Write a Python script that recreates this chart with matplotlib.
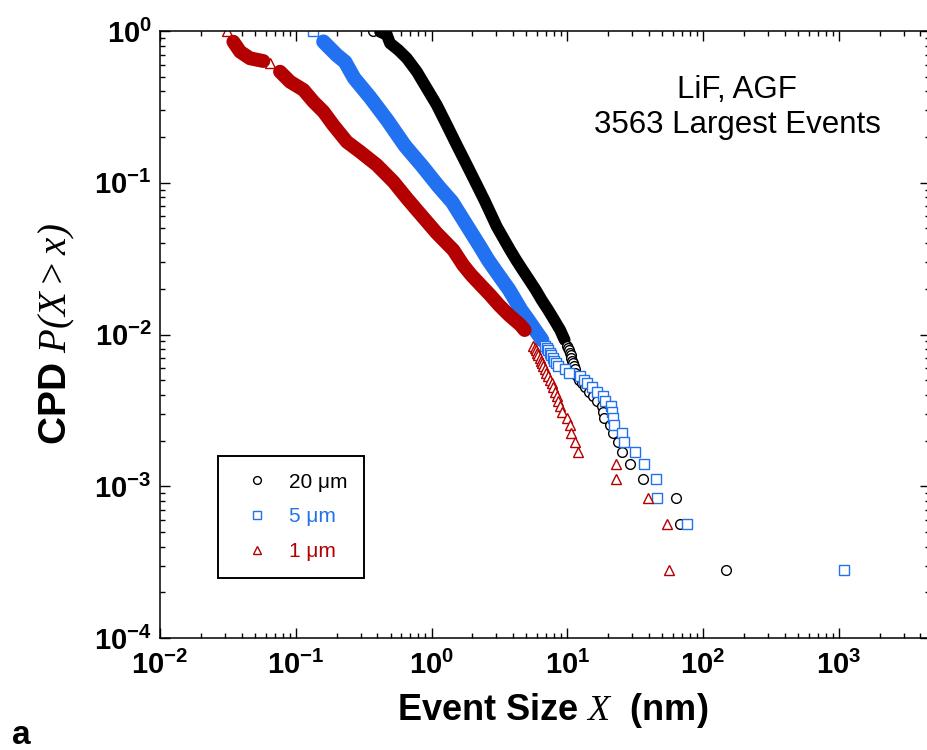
import numpy as np
import matplotlib
matplotlib.use("Agg")
import matplotlib.pyplot as plt

plt.rcParams['font.family'] = ['Liberation Sans', 'DejaVu Sans']
plt.rcParams['mathtext.fontset'] = 'custom'
plt.rcParams['mathtext.rm'] = 'Liberation Serif:italic'
plt.rcParams['mathtext.it'] = 'Liberation Serif:italic'
plt.rcParams['mathtext.bf'] = 'Liberation Sans:bold'

N_EVENTS = 3563

# ---- 20 um pillars -------------------------------------------------------
x20_top = [0.373]
p20_top = [1.0]
# dense part of the CPD (markers overlap into a solid band)
x20_band = [0.418, 0.469, 0.495, 0.570, 0.658, 0.780, 0.923, 1.094, 1.297,
            1.535, 1.820, 2.158, 2.483, 3.027, 3.795, 4.20, 4.69, 5.24,
            5.85, 6.47, 7.23, 8.00, 8.87, 9.57]
p20_band = [0.989, 0.941, 0.830, 0.750, 0.661, 0.539, 0.419, 0.325, 0.240,
            0.177, 0.131, 0.0966, 0.0750, 0.0513, 0.0360, 0.0310, 0.0266,
            0.0229, 0.0197, 0.0169, 0.0145, 0.0125, 0.0107, 0.00920]
# largest events, rank 1 first
x20_tail = [148, 67.9, 63.5, 36.1, 29.2, 25.2, 23.8, 21.9, 20.7, 18.5, 18.4,
            17.9, 16.6, 15.6, 14.5, 13.5, 12.9, 12.2, 11.8, 11.43, 11.35,
            11.15, 11.06, 10.87, 10.69, 10.59, 10.42, 10.33, 10.16, 9.98]

# ---- 5 um pillars --------------------------------------------------------
x5_top = [0.135]
p5_top = [1.0]
x5_band = [0.160, 0.200, 0.231, 0.269, 0.353, 0.471, 0.638, 0.853, 1.119,
           1.419, 1.718, 2.280, 2.61, 2.94, 3.31, 3.73, 4.13, 4.57, 5.15,
           5.80, 6.53]
p5_band = [0.850, 0.695, 0.625, 0.490, 0.365, 0.259, 0.175, 0.129, 0.0952,
           0.0747, 0.0568, 0.0379, 0.0310, 0.0266, 0.0229, 0.0197, 0.0169,
           0.0145, 0.0125, 0.0107, 0.00920]
x5_tail = [1085, 76.0, 45.7, 45.0, 36.5, 31.6, 26.4, 25.2, 22.2, 21.7, 21.3,
           21.0, 19.0, 18.3, 16.5, 15.2, 13.9, 13.2, 12.4, 10.3, 9.66, 8.57,
           8.22, 8.00, 7.80, 7.60, 7.41, 7.23, 7.05, 6.87]

# ---- 1 um pillars --------------------------------------------------------
x1_top = [0.0313, 0.0647]
p1_top = [1.0, 0.612]
x1_band_a = [0.0347, 0.0389, 0.0460, 0.0577]
p1_band_a = [0.850, 0.731, 0.661, 0.634]
x1_band_b = [0.0766, 0.0908, 0.114, 0.135, 0.160, 0.189, 0.238, 0.298,
             0.395, 0.524, 0.658, 0.780, 1.094, 1.449, 1.710, 1.959, 2.300,
             2.704, 3.148, 3.733, 4.498, 4.855]
p1_band_b = [0.539, 0.463, 0.409, 0.342, 0.294, 0.240, 0.186, 0.160, 0.131,
             0.1016, 0.0790, 0.0661, 0.0465, 0.0360, 0.0287, 0.0247, 0.0212,
             0.0182, 0.0156, 0.0134, 0.0116, 0.0107]
x1_tail = [55.7, 54.2, 39.3, 22.9, 22.7, 12.0, 11.4, 10.6, 10.5, 9.9, 9.1,
           8.87, 8.6, 8.4, 8.15, 7.87, 7.67, 7.41, 7.17, 6.99, 6.81, 6.64,
           6.53, 6.42, 6.26, 6.11, 6.00, 5.90, 5.75, 5.61]

series = [
    ('20 \u03bcm', 'o', 'black', 8.5, (x20_top, p20_top), [(x20_band, p20_band)], x20_tail),
    ('5 \u03bcm', 's', '#2271f0', 10.5, (x5_top, p5_top), [(x5_band, p5_band)], x5_tail),
    ('1 \u03bcm', '^', '#b40000', 10.0, (x1_top, p1_top),
     [(x1_band_a, p1_band_a), (x1_band_b, p1_band_b)], x1_tail),
]

fig = plt.figure(figsize=(9.28, 7.5), dpi=100)
ax = fig.add_axes([160 / 928, 112 / 750, 770 / 928, 607 / 750])

handles = []
for label, marker, color, band_lw, top, bands, xtail in series:
    mk = dict(linestyle='none', marker=marker, ms=7, mew=1.0, mec=color, mfc='white')
    ax.plot(top[0], top[1], **mk)
    for xb, pb in bands:
        ax.plot(xb, pb, color=color, lw=band_lw, solid_capstyle='round',
                solid_joinstyle='round')
    # draw smallest first so larger events sit on top
    ranks = np.arange(len(xtail), 0, -1)
    h, = ax.plot(xtail[::-1], ranks / N_EVENTS, label=label, **mk)
    handles.append(h)

ax.set_xscale('log')
ax.set_yscale('log')
ax.set_xlim(1e-2, 4.7e3)
ax.set_ylim(1e-4, 1)

ax.tick_params(which='both', direction='in', top=True, right=True, width=1.0)
ax.tick_params(which='major', length=7, labelsize=21)
ax.tick_params(axis='x', which='major', pad=9)
ax.tick_params(axis='y', which='major', pad=6)
ax.tick_params(which='minor', length=3.5)
for t in ax.get_xticklabels() + ax.get_yticklabels():
    t.set_fontweight('bold')
for sp in ax.spines.values():
    sp.set_linewidth(1.1)

ax.set_xlabel('Event Size $X$  (nm)', fontsize=26, fontweight='bold', labelpad=8)
ax.xaxis.label.set_x(0.51)
ax.set_ylabel('CPD $P(X > x)$', fontsize=28, fontweight='bold', labelpad=12)

note = dict(ha='center', va='center', fontsize=22.5)
fig.text(737 / 928, 1 - 90 / 750, 'LiF, AGF', **note)
fig.text(737 / 928, 1 - 125 / 750, '3563 Largest Events', **note)
fig.text(12 / 928, 1 - 735 / 750, 'a', ha='left', va='center', fontsize=24,
         fontweight='bold')

leg = ax.legend(handles=handles, loc='upper left', bbox_to_anchor=(218 / 928, 1 - 456 / 750),
                bbox_transform=fig.transFigure, borderaxespad=0, fontsize=15,
                markerscale=0.8, handlelength=2.1, handletextpad=0.5, labelspacing=0.75,
                borderpad=0.8, fancybox=False, framealpha=1, edgecolor='black',
                labelcolor='markeredgecolor')
leg.get_frame().set_linewidth(1.4)

fig.savefig('out.png', dpi=100)
